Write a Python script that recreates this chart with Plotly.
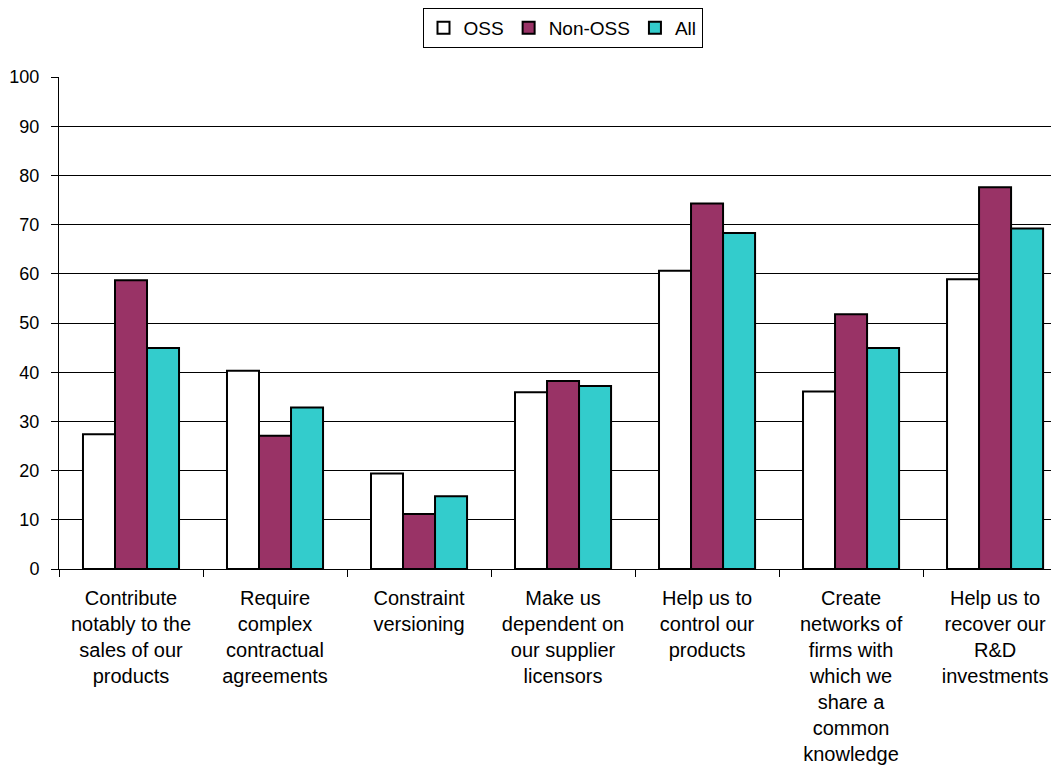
import plotly.graph_objects as go

categories = [
    "Contribute<br>notably to the<br>sales of our<br>products",
    "Require<br>complex<br>contractual<br>agreements",
    "Constraint<br>versioning",
    "Make us<br>dependent on<br>our supplier<br>licensors",
    "Help us to<br>control our<br>products",
    "Create<br>networks of<br>firms with<br>which we<br>share a<br>common<br>knowledge",
    "Help us to<br>recover our<br>R&D<br>investments",
]
oss = [27.4, 40.3, 19.4, 35.9, 60.6, 36.1, 58.9]
non_oss = [58.7, 27.1, 11.2, 38.2, 74.3, 51.8, 77.6]
all_firms = [44.9, 32.8, 14.8, 37.2, 68.3, 44.9, 69.2]
y_ticks = [0, 10, 20, 30, 40, 50, 60, 70, 80, 90, 100]

series = [
    ("OSS", oss, "#FFFFFF"),
    ("Non-OSS", non_oss, "#993366"),
    ("All", all_firms, "#33CCCC"),
]

fig = go.Figure()
for name, vals, color in series:
    fig.add_trace(go.Bar(
        x=categories, y=vals, name=name,
        marker=dict(color=color, line=dict(color="#000000", width=2)),
    ))

# page body adds an 8px offset; margins compensate so the plot lands where the reference has it
fig.update_layout(
    width=1051, height=761,
    margin=dict(l=51, r=0, t=69, b=200),
    paper_bgcolor="white", plot_bgcolor="white",
    barmode="group", bargap=0.333, bargroupgap=0,
    font=dict(family="Liberation Sans, Arial, sans-serif", color="#000000", size=18),
    showlegend=True,
    legend=dict(
        orientation="h", xref="paper", yref="container",
        x=0.5035, xanchor="center", y=1.0, yanchor="top",
        bordercolor="#000000", borderwidth=1, bgcolor="white",
        font=dict(size=19), itemwidth=30, tracegroupgap=0,
    ),
)
fig.update_xaxes(
    type="category", range=[-0.5, 6.444],
    tickson="boundaries", ticks="outside", ticklen=7, tickcolor="#000000",
    showline=True, linecolor="#000000", linewidth=1,
    showgrid=False, tickfont=dict(size=20), ticklabelstandoff=11,
)
fig.update_yaxes(
    range=[0, 100], tickvals=y_ticks,
    ticks="outside", ticklen=7, tickcolor="#000000",
    showline=True, linecolor="#000000", linewidth=1,
    showgrid=True, gridcolor="#000000", gridwidth=1,
    zeroline=False, tickfont=dict(size=18), ticklabelstandoff=8,
)

fig.write_html("out.html")
